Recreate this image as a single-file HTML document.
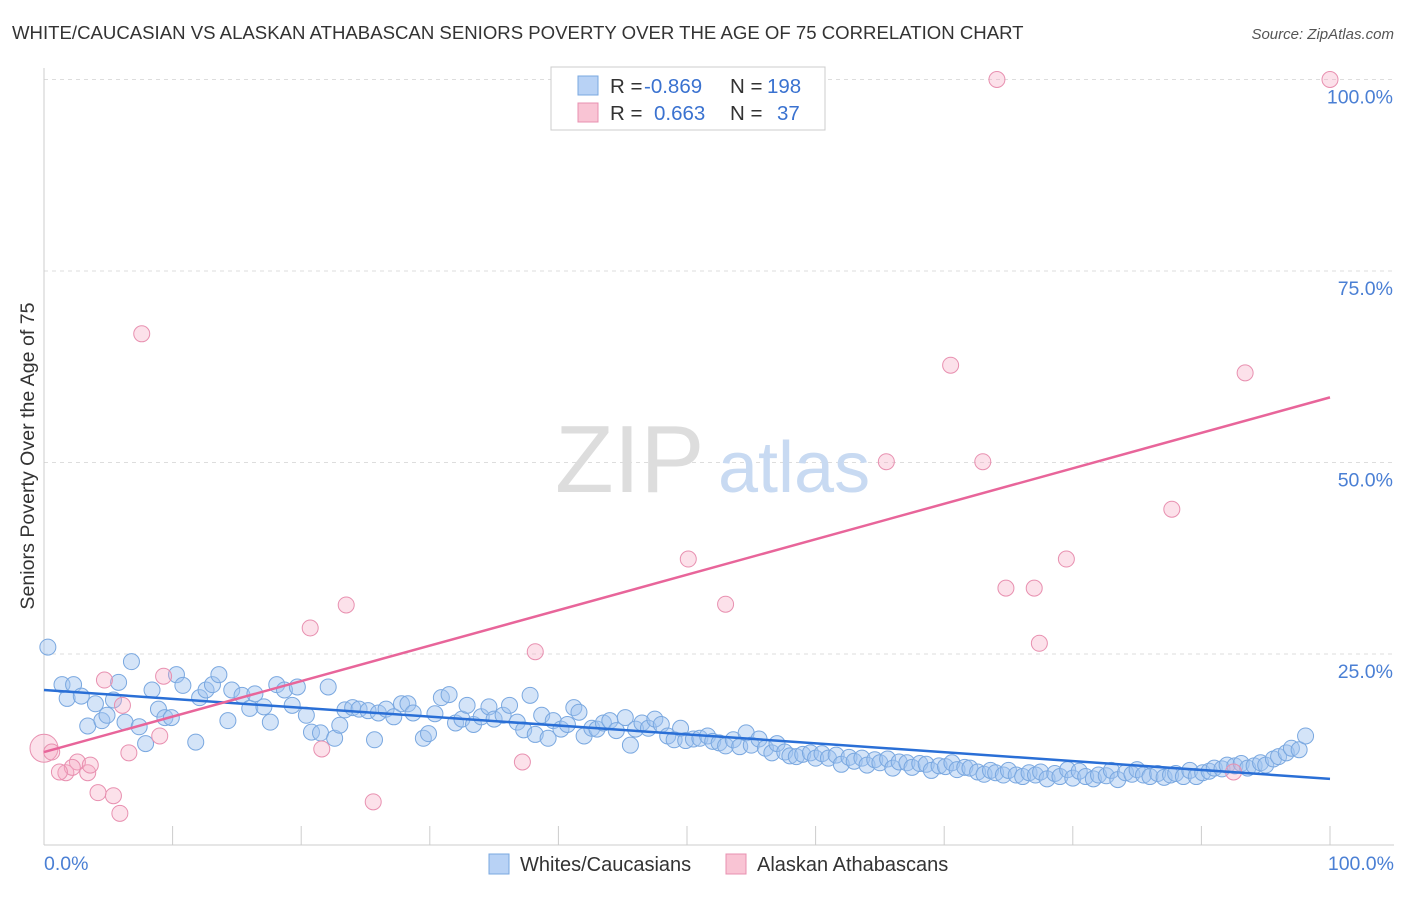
<!DOCTYPE html>
<html><head><meta charset="utf-8"><style>
body{margin:0;background:#fff;font-family:"Liberation Sans",sans-serif;}
svg text{font-family:"Liberation Sans",sans-serif;}
</style></head><body>
<svg id="c" width="1406" height="892"></svg>
<script>
const blueX=[0.3,1.4,1.8,2.3,2.9,3.4,4.0,4.5,4.9,5.4,5.8,6.3,6.8,7.4,7.9,8.4,8.9,9.4,9.9,10.3,10.8,11.8,12.1,12.6,13.1,13.6,14.3,14.6,15.4,16.0,16.4,17.1,17.6,18.1,18.7,19.3,19.7,20.4,20.8,21.5,22.1,22.6,23.0,23.4,24.0,24.5,25.2,25.7,26.0,26.6,27.2,27.8,28.3,28.7,29.5,29.9,30.4,30.9,31.5,32.0,32.5,32.9,33.4,34.0,34.6,35.0,35.7,36.2,36.8,37.3,37.8,38.2,38.7,39.2,39.6,40.2,40.7,41.2,41.6,42.0,42.6,43.0,43.5,44.0,44.5,45.2,45.6,46.0,46.5,47.0,47.5,48.0,48.5,49.0,49.5,49.9,50.5,51.0,51.6,52.0,52.5,53.0,53.6,54.1,54.6,55.0,55.6,56.1,56.6,57.0,57.6,58.0,58.5,59.0,59.6,60.0,60.5,61.0,61.6,62.0,62.6,63.0,63.6,64.0,64.6,65.0,65.6,66.0,66.5,67.1,67.5,68.1,68.6,69.0,69.6,70.1,70.6,71.0,71.6,72.0,72.6,73.1,73.6,74.0,74.6,75.0,75.6,76.1,76.6,77.1,77.5,78.0,78.6,79.0,79.6,80.0,80.5,81.0,81.6,82.0,82.6,83.0,83.5,84.1,84.6,85.0,85.5,86.0,86.6,87.1,87.6,88.0,88.6,89.1,89.6,90.1,90.6,91.0,91.6,92.0,92.6,93.1,93.6,94.1,94.6,95.0,95.6,96.0,96.6,97.0,97.6,98.1];
const blueY=[25.9,21.0,19.2,21.0,19.5,15.6,18.5,16.3,17.0,19.0,21.3,16.1,24.0,15.5,13.3,20.3,17.8,16.7,16.7,22.3,20.9,13.5,19.3,20.3,21.0,22.3,16.3,20.3,19.6,17.9,19.8,18.1,16.1,21.0,20.3,18.3,20.7,17.0,14.8,14.7,20.7,14.0,15.7,17.7,18.0,17.8,17.6,13.8,17.3,17.8,16.8,18.5,18.5,17.3,14.0,14.6,17.2,19.3,19.7,16.0,16.5,18.3,15.8,16.8,18.1,16.5,17.0,18.3,16.1,15.1,19.6,14.5,17.0,14.0,16.3,15.2,15.8,18.0,17.4,14.3,15.3,15.2,16.0,16.3,15.0,16.7,13.1,15.2,16.0,15.3,16.5,15.8,14.3,13.8,15.3,13.7,13.9,14.0,14.3,13.6,13.4,13.0,13.8,12.9,14.7,13.1,13.9,12.7,12.1,13.3,12.2,11.7,11.6,11.9,12.1,11.4,12.0,11.4,11.8,10.6,11.5,11.0,11.4,10.5,11.2,10.8,11.3,10.1,10.9,10.8,10.2,10.7,10.6,9.8,10.4,10.3,10.8,9.9,10.2,10.1,9.6,9.3,9.8,9.5,9.2,9.8,9.2,9.0,9.5,9.2,9.6,8.7,9.4,9.0,9.9,8.8,9.7,9.0,8.7,9.2,9.1,9.8,8.6,9.5,9.3,9.9,9.2,9.0,9.4,8.9,9.2,9.4,9.0,9.8,9.0,9.5,9.7,10.1,10.0,10.5,10.4,10.7,10.1,10.4,10.8,10.5,11.3,11.6,12.1,12.7,12.5,14.3];
const pinkX=[0,0.6,1.7,2.6,3.4,4.2,5.4,5.9,4.7,6.1,6.6,7.6,9.0,9.3,20.7,21.6,23.5,25.6,37.2,38.2,50.1,53.0,65.5,70.5,73.0,74.1,74.8,77.0,77.4,79.5,87.7,92.5,93.4,100,2.2,1.2,3.6];
const pinkY=[12.7,12.2,9.5,10.9,9.5,6.9,6.5,4.2,21.6,18.3,12.1,66.8,14.3,22.1,28.4,12.6,31.4,5.7,10.9,25.3,37.4,31.5,50.1,62.7,50.1,100,33.6,33.6,26.4,37.4,43.9,9.6,61.7,100,10.2,9.6,10.5];
const blueTrend=[20.3,8.7];
const pinkTrend=[12.2,58.5];
const yTicks=[25,50,75,100];
const xTicks=[0,10,20,30,40,50,60,70,80,90,100];

const svg=document.getElementById('c');const NS='http://www.w3.org/2000/svg';
const X=v=>44+v*12.86, Y=v=>845.5-v*7.66;
function mk(t,a,p){const e=document.createElementNS(NS,t);for(const k in a)e.setAttribute(k,a[k]);(p||svg).appendChild(e);return e;}
function txt(x,y,s,a,name){const e=mk('text',Object.assign({x:x,y:y},a));e.textContent=s;return e;}
txt(12,39,'WHITE/CAUCASIAN VS ALASKAN ATHABASCAN SENIORS POVERTY OVER THE AGE OF 75 CORRELATION CHART',{'font-size':18.6,fill:'#333'},'chart-title');
txt(1394,39,'Source: ZipAtlas.com',{'font-size':15,fill:'#555','text-anchor':'end','font-style':'italic'},'source-label');
yTicks.forEach(v=>{const l=mk('line',{x1:44,x2:1394,y1:Y(v),y2:Y(v),stroke:'#ddd','stroke-dasharray':'4,4'});
txt(1393,Y(v)+24,v.toFixed(1)+'%',{'font-size':19.5,fill:'#4a7fd4','text-anchor':'end'},'y-tick-label');});
mk('line',{x1:44,x2:44,y1:68,y2:845,stroke:'#ccc'});
mk('line',{x1:44,x2:1394,y1:845,y2:845,stroke:'#ccc'});
xTicks.forEach(v=>{const l=mk('line',{x1:X(v),x2:X(v),y1:826,y2:845,stroke:'#ccc'});});
txt(44,870,'0.0%',{'font-size':19.5,fill:'#4a7fd4'},'x-min-label');
txt(1394,870,'100.0%',{'font-size':19.5,fill:'#4a7fd4','text-anchor':'end'},'x-max-label');
txt(34,456,'Seniors Poverty Over the Age of 75',{'font-size':19.6,fill:'#333','text-anchor':'middle',transform:'rotate(-90 34 456)'},'y-axis-title');
txt(555,492,'ZIP',{'font-size':96,fill:'#ddd','font-family':'Liberation Serif'},'watermark-zip');
txt(718,492,'atlas',{'font-size':72,fill:'#c8daf2'},'watermark-atlas');
blueX.forEach((v,i)=>{const c=mk('circle',{cx:X(v),cy:Y(blueY[i]),r:8,fill:'rgba(160,196,240,0.45)',stroke:'#7aa8e0','stroke-width':1});});
pinkX.forEach((v,i)=>{const c=mk('circle',{cx:X(v),cy:Y(pinkY[i]),r:i==0?14:8,fill:'rgba(245,170,195,0.35)',stroke:'#e890b0','stroke-width':1});});
const bt=mk('line',{x1:X(0),y1:Y(blueTrend[0]),x2:X(100),y2:Y(blueTrend[1]),stroke:'#2a6fd6','stroke-width':2.5});
const pt=mk('line',{x1:X(0),y1:Y(pinkTrend[0]),x2:X(100),y2:Y(pinkTrend[1]),stroke:'#e8659a','stroke-width':2.5});
const lg=mk('g',{});
mk('rect',{x:551,y:67,width:274,height:63,fill:'#fff',stroke:'#ccc'},lg);
mk('rect',{x:578,y:76,width:20,height:19,fill:'#b8d2f5',stroke:'#7aa8e0'},lg);
mk('rect',{x:578,y:103,width:20,height:19,fill:'#f9c4d4',stroke:'#e890b0'},lg);
[['R = ',610,93,'#333'],['-0.869',644,93,'#3a72d0'],['N = ',730,93,'#333'],['198',767,93,'#3a72d0'],['R = ',610,120,'#333'],['0.663',654,120,'#3a72d0'],['N = ',730,120,'#333'],['37',777,120,'#3a72d0']].forEach(a=>{const t=mk('text',{x:a[1],y:a[2],'font-size':20.5,fill:a[3]},lg);t.textContent=a[0];});
const bl=mk('g',{});
mk('rect',{x:489,y:854,width:20,height:20,fill:'#b8d2f5',stroke:'#7aa8e0'},bl);
mk('rect',{x:726,y:854,width:20,height:20,fill:'#f9c4d4',stroke:'#e890b0'},bl);
txt(520,871,'Whites/Caucasians',{'font-size':20,fill:'#333'},'legend-whites');
txt(757,871,'Alaskan Athabascans',{'font-size':20,fill:'#333'},'legend-athabascans');
</script>
</body></html>
